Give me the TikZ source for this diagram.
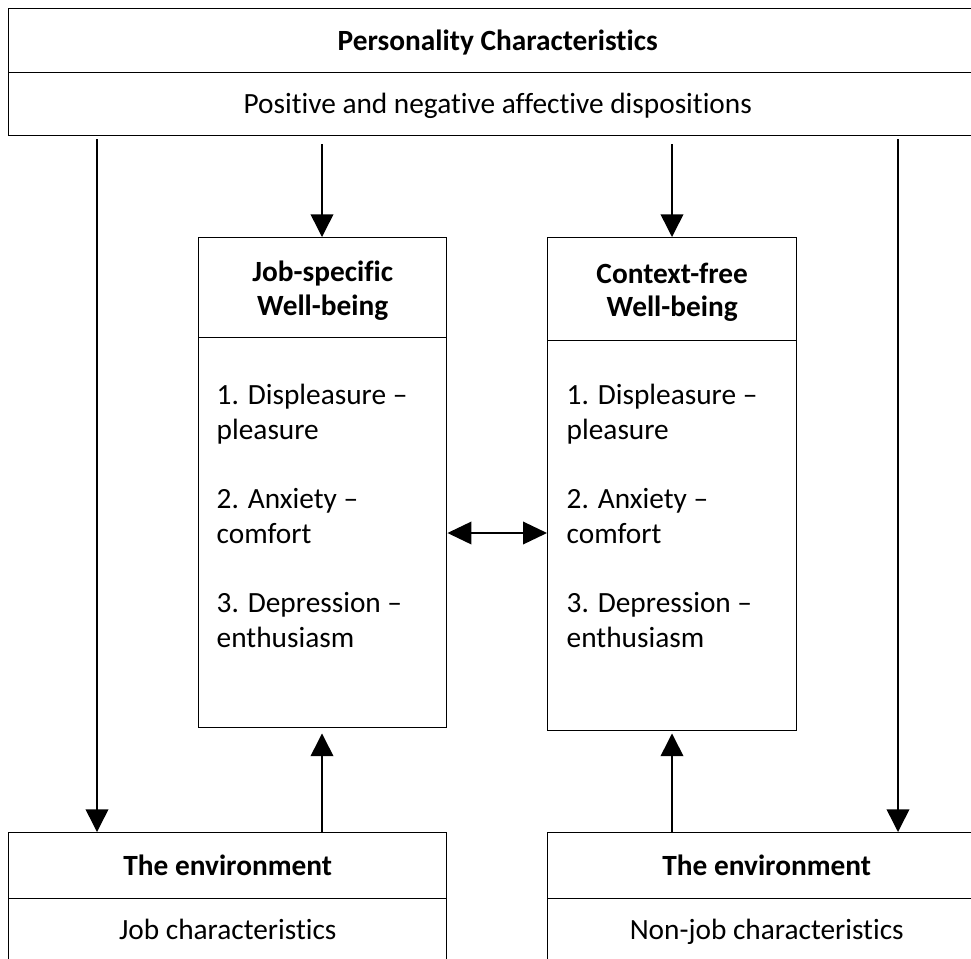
\documentclass[tikz,border=0pt]{standalone}
\usepackage{fontspec}
\setmainfont[Ligatures=NoCommon]{Carlito}
\usetikzlibrary{arrows.meta}
\begin{document}
\begin{tikzpicture}[x=0.75pt,y=-0.75pt,line width=1.1pt,
  cell/.style n args={2}{draw, rectangle, inner sep=0pt, anchor=north west,
    minimum width=#1*0.75pt, minimum height=#2*0.75pt, align=center,
    font=\fontsize{22}{25}\selectfont},
  oneline/.style={text height=18.5pt, text depth=4.5pt},
  twoline/.style={text height=45pt},
  head/.style={font=\fontsize{22}{25}\selectfont\bfseries},
  items/.style={anchor=north west, align=left, inner sep=0pt,
    font=\fontsize{22}{26.25}\selectfont},
  arr/.style={-{Triangle[length=17pt,width=17pt]}},
  biarr/.style={{Triangle[length=18pt,width=17pt]}-{Triangle[length=18pt,width=17pt]}}]
\clip (0,0) rectangle (971,958);
\fill[white] (0,0) rectangle (971,958);

% personality characteristics
\node[cell={978}{64},head,oneline] (pchead) at (8,8) {Personality Characteristics};
\node[cell={978}{63},oneline] (pcbody) at (8,72) {Positive and negative affective dispositions};

% well-being boxes
\node[cell={248}{100},head,twoline] (jobhead) at (198,237) {Job-specific\\Well-being};
\node[cell={248}{390}] (jobbody) at (198,337) {};
\node[cell={249}{103},head,twoline] (ctxhead) at (547,237) {Context-free\\Well-being};
\node[cell={249}{390}] (ctxbody) at (547,340) {};

\node[items] (jobitems) at (216,383) {1. Displeasure --\\pleasure\\[25.5pt]2. Anxiety --\\comfort\\[25.5pt]3. Depression --\\enthusiasm};
\node[items] (ctxitems) at (566,383) {1. Displeasure --\\pleasure\\[25.5pt]2. Anxiety --\\comfort\\[25.5pt]3. Depression --\\enthusiasm};

% environment boxes
\node[cell={438}{66},head,oneline] (envLhead) at (8,832) {The environment};
\node[cell={438}{62},oneline] (envLbody) at (8,898) {Job characteristics};
\node[cell={438}{66},head,oneline] (envRhead) at (547,832) {The environment};
\node[cell={438}{62},oneline] (envRbody) at (547,898) {Non-job characteristics};

% connector columns
\coordinate (xL) at (97,0);
\coordinate (xJ) at (322,0);
\coordinate (xC) at (672,0);
\coordinate (xR) at (898,0);
\coordinate (yM) at (0,533);

\draw[arr] ([yshift=-2.25pt]pcbody.south -| xL) -- (envLhead.north -| xL);
\draw[arr] ([yshift=-2.25pt]pcbody.south -| xR) -- (envRhead.north -| xR);
\draw[arr] ([yshift=-6pt]pcbody.south -| xJ) -- (jobhead.north -| xJ);
\draw[arr] ([yshift=-6pt]pcbody.south -| xC) -- (ctxhead.north -| xC);
\draw[arr] (envLhead.north -| xJ) -- ([yshift=-3.75pt]jobbody.south -| xJ);
\draw[arr] (envRhead.north -| xC) -- ([yshift=-1.5pt]ctxbody.south -| xC);
\draw[biarr] (jobbody.east |- yM) -- (ctxbody.west |- yM);
\end{tikzpicture}
\end{document}
